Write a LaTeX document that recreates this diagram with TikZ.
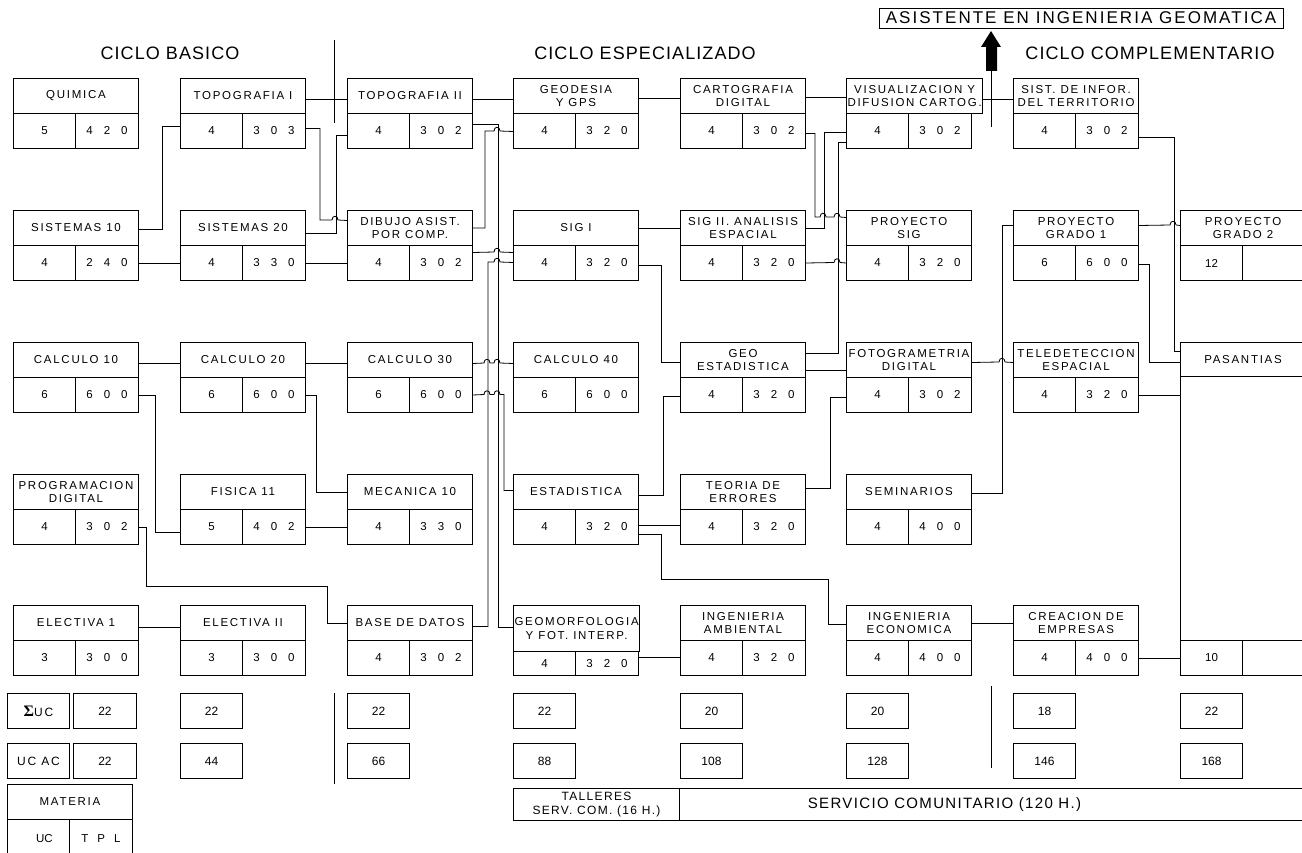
\documentclass[tikz,border=0pt]{standalone}
\usepackage{fontspec}
\setmainfont{Liberation Sans}
\newfontfamily\bxf{Liberation Sans}[LetterSpace=15]
\newfontfamily\hdf{Liberation Sans}[LetterSpace=6]
\newfontfamily\asf{Liberation Sans}[LetterSpace=12]
\newfontfamily\svf{Liberation Sans}[LetterSpace=9]
\newfontfamily\tlf{Liberation Sans}[LetterSpace=11]
\newfontfamily\sgf{Liberation Serif}
\newcommand\dg[3]{#1\hspace{11pt}#2\hspace{11pt}#3}
\tikzset{
 box/.style={draw, line width=1pt, inner sep=1pt, anchor=north west},
 ttl/.style={box, align=center, minimum width=125pt, minimum height=35pt, font=\bxf\fontsize{11.5}{13.5}\selectfont},
 cA/.style={box, minimum width=62pt, minimum height=35pt, font=\fontsize{11.5}{13}\selectfont},
 cB/.style={box, minimum width=63pt, minimum height=35pt, font=\fontsize{11.5}{13}\selectfont},
 sm/.style={box, minimum width=62pt, minimum height=35pt, font=\fontsize{12}{14}\selectfont},
 hdr/.style={font=\hdf\fontsize{18}{20}\selectfont},
 ln/.style={line width=0.8pt},
}
\newcommand\mcourse[6]{%
 \node[ttl] (#1) at (#2,#3) {#4};
 \node[cA] (#1-u) at (#2,#3+35) {#5};
 \node[cB] (#1-h) at (#2+62,#3+35) {#6};}
\begin{document}
\begin{tikzpicture}[x=1pt,y=-1pt]
\useasboundingbox (0,0) rectangle (1302,853);
\fill[white] (0,0) rectangle (1302,853);
\clip (0,0) rectangle (1302,853);

% headers
\node[hdr] (hb) at (170,53) {CICLO BASICO};
\node[hdr] (he) at (645,53) {CICLO ESPECIALIZADO};
\node[hdr] (hc) at (1150,53) {CICLO COMPLEMENTARIO};
\node[draw, line width=0.8pt, minimum width=404pt, minimum height=20pt, inner sep=0pt, font=\asf\fontsize{17}{19}\selectfont] (asist) at (1081,18) {ASISTENTE EN INGENIERIA GEOMATICA};

% row 1
\mcourse{quim}{13}{78}{QUIMICA}{5}{\dg420}
\mcourse{topoA}{180}{78}{TOPOGRAFIA I}{4}{\dg303}
\mcourse{topoB}{347}{78}{TOPOGRAFIA II}{4}{\dg302}
\mcourse{geod}{513}{78}{GEODESIA\\Y GPS}{4}{\dg320}
\mcourse{cart}{680}{78}{CARTOGRAFIA\\DIGITAL}{4}{\dg302}
\mcourse{vis}{846}{78}{VISUALIZACION Y\\DIFUSION CARTOG.}{4}{\dg302}
\mcourse{sist}{1013}{78}{SIST. DE INFOR.\\DEL TERRITORIO}{4}{\dg302}
% row 2
\mcourse{sisA}{13}{210}{SISTEMAS 10}{4}{\dg240}
\mcourse{sisB}{180}{210}{SISTEMAS 20}{4}{\dg330}
\mcourse{dib}{347}{210}{DIBUJO ASIST.\\POR COMP.}{4}{\dg302}
\mcourse{sigA}{513}{210}{SIG I}{4}{\dg320}
\mcourse{sigB}{680}{210}{SIG II. ANALISIS\\ESPACIAL}{4}{\dg320}
\mcourse{psig}{846}{210}{PROYECTO\\SIG}{4}{\dg320}
\mcourse{pgA}{1013}{210}{PROYECTO\\GRADO 1}{6}{\dg600}
\mcourse{pgB}{1180}{210}{PROYECTO\\GRADO 2}{12}{}
% row 3
\mcourse{calA}{13}{342}{CALCULO 10}{6}{\dg600}
\mcourse{calB}{180}{342}{CALCULO 20}{6}{\dg600}
\mcourse{calC}{347}{342}{CALCULO 30}{6}{\dg600}
\mcourse{calD}{513}{342}{CALCULO 40}{6}{\dg600}
\mcourse{geoest}{680}{342}{GEO\\ESTADISTICA}{4}{\dg320}
\mcourse{fot}{846}{342}{FOTOGRAMETRIA\\DIGITAL}{4}{\dg302}
\mcourse{tel}{1013}{342}{TELEDETECCION\\ESPACIAL}{4}{\dg320}
\node[ttl, minimum height=34pt] (pas) at (1180,342) {PASANTIAS};
\node[box, minimum width=125pt, minimum height=264pt] (pasb) at (1180,376) {};
\node[cA] (pas-u) at (1180,640) {10};
\node[cB] (pas-h) at (1242,640) {};
% row 4
\mcourse{prog}{13}{474}{PROGRAMACION\\DIGITAL}{4}{\dg302}
\mcourse{fis}{180}{474}{FISICA 11}{5}{\dg402}
\mcourse{mec}{347}{474}{MECANICA 10}{4}{\dg330}
\mcourse{est}{513}{474}{ESTADISTICA}{4}{\dg320}
\mcourse{teo}{680}{474}{TEORIA DE\\ERRORES}{4}{\dg320}
\mcourse{sem}{846}{474}{SEMINARIOS}{4}{\dg400}
% row 5
\mcourse{elA}{13}{605}{ELECTIVA 1}{3}{\dg300}
\mcourse{elB}{180}{605}{ELECTIVA II}{3}{\dg300}
\mcourse{bd}{347}{605}{BASE DE DATOS}{4}{\dg302}
\node[ttl, minimum height=46pt] (geom) at (513,605) {GEOMORFOLOGIA\\Y FOT. INTERP.};
\node[cA, minimum height=24pt] (geom-u) at (513,651) {4};
\node[cB, minimum height=24pt] (geom-h) at (575,651) {\dg320};
\mcourse{ingam}{680}{605}{INGENIERIA\\AMBIENTAL}{4}{\dg320}
\mcourse{ingec}{846}{605}{INGENIERIA\\ECONOMICA}{4}{\dg400}
\mcourse{crea}{1013}{605}{CREACION DE\\EMPRESAS}{4}{\dg400}

% sums
\node[sm, font=\bxf\fontsize{12}{14}\selectfont] (suml) at (7,693) {{\sgf\bfseries\fontsize{16}{16}\selectfont Σ}UC};
\node[sm, minimum width=63pt] (s1) at (73,693) {22};
\node[sm, font=\bxf\fontsize{12}{14}\selectfont] (acl) at (7,743) {UC AC};
\node[sm, minimum width=63pt] (a1) at (73,743) {22};
\node[sm] (s2) at (180,693) {22};  \node[sm] (a2) at (180,743) {44};
\node[sm] (s3) at (347,693) {22};  \node[sm] (a3) at (347,743) {66};
\node[sm] (s4) at (513,693) {22};  \node[sm] (a4) at (513,743) {88};
\node[sm] (s5) at (680,693) {20};  \node[sm] (a5) at (680,743) {108};
\node[sm] (s6) at (846,693) {20};  \node[sm] (a6) at (846,743) {128};
\node[sm] (s7) at (1013,693) {18}; \node[sm] (a7) at (1013,743) {146};
\node[sm] (s8) at (1180,693) {22}; \node[sm] (a8) at (1180,743) {168};

% legend
\node[ttl] (mat) at (7,784) {MATERIA};
\node[cA, minimum height=38pt] (mat-u) at (7,819) {\hspace*{12pt}UC};
\node[cB, minimum height=38pt] (mat-h) at (69,819) {T\hspace{9pt}P\hspace{9pt}L};

% community service
\node[box, align=center, minimum width=166pt, minimum height=32pt, inner sep=0pt, font=\tlf\fontsize{12}{13.5}\selectfont] (tall) at (513,788) {TALLERES\\SERV. COM. (16 H.)};
\node[box, minimum width=640pt, minimum height=32pt, font=\svf\fontsize{15}{17}\selectfont] (serv) at (679,788) {SERVICIO COMUNITARIO (120 H.)\hspace*{110pt}};

% separators
\draw[line width=1pt] (334,40) -- (334,123);
\draw[line width=1pt] (334,693) -- (334,784);
\draw[line width=1pt] (991,686) -- (991,768);

% exit arrow
\coordinate (arrowfoot) at (991,127);
\draw[ln] (arrowfoot) -- (991,71);
\fill (986,71) -- (986,47) -- (981,47) -- (991,31) -- (1001,47) -- (997,47) -- (997,71) -- cycle;

% connectors
\draw[ln] ([yshift=-3.5pt]topoA.east) -- ([yshift=-3.5pt]topoB.west);
\draw[ln] ([yshift=-1.5pt]sisA.east) -- ++(23,0) |- ([yshift=4.5pt]topoA-u.west);
\draw[ln] (sisA-h.east) -- (sisB-u.west);
\draw[ln] ([yshift=-5.5pt]sisB.east) -- ++(30,0) |- ([yshift=-4.5pt]topoB-u.west);
\draw[ln] ([yshift=2.5pt]topoA-h.east) -- ++(14,0) |- (332,220) .. controls (332,215) and (338,215) .. (338,220) -- ([yshift=7.5pt]dib.west);
\draw[ln] (sisB-h.east) -- (dib-u.west);
\draw[ln] ([yshift=-3.5pt]calA.east) -- ([yshift=-3.5pt]calB.west);
\draw[ln] (calA-h.east) -- ++(16,0) |- ([yshift=-5.5pt]fis-u.west);
\draw[ln] ([yshift=-3.5pt]calB.east) -- ([yshift=-3.5pt]calC.west);
\draw[ln] (calB-h.east) -- ++(10,0) |- (mec.west);
\draw[ln] (fis-h.east) -- (mec-u.west);
\draw[ln] (prog-h.east) -- ++(7,0) |- (327,586) |- (bd.west);
\draw[ln] ([yshift=-4.5pt]elA.east) -- ([yshift=-4.5pt]elB.west);
\draw[ln] ([yshift=-3.5pt]topoB.east) -- ([yshift=-3.5pt]geod.west);
\draw[ln] ([yshift=6.5pt]topoB-h.east) -- ++(25,0) |- ([yshift=1pt]geom.west);
\draw[ln] (dib.east) -- ++(12,0) |- (494,131) .. controls (494,126) and (500,126) .. (500,131) -- ([yshift=-0.5pt]geod-u.west);
\draw[ln] ([yshift=10.5pt]dib-h.east) -- (494,252) .. controls (494,247) and (500,247) .. (500,252) -- ([yshift=10.5pt]sigA-u.west);
\draw[ln] ([yshift=-3.5pt]bd.east) -- ++(15,0) |- (494,262) .. controls (494,257) and (500,257) .. (500,262) -- ([yshift=0.5pt]sigA-u.west);
\draw[ln] ([yshift=-3.5pt]calC.east) -- (484,363) .. controls (484,358) and (490,358) .. (490,363) -- (494,363) .. controls (494,358) and (500,358) .. (500,363) -- ([yshift=-3.5pt]calD.west);
\draw[ln] (calC-h.east) -- (484,394.5) .. controls (484,389.5) and (490,389.5) .. (490,394.5) -- (494,394.5) .. controls (494,389.5) and (500,389.5) .. (500,394.5) -- (504,394.5) |- ([yshift=1.5pt]est.west);
\draw[ln] ([yshift=-2.5pt]geod.east) -- ([yshift=-2.5pt]cart.west);
\draw[ln] ([yshift=-1.5pt]cart.east) -- ([yshift=-1.5pt]vis.west);
\draw[ln] ([yshift=-2.5pt]cart-h.east) -- ++(9,0) |- (820,217) .. controls (820,212) and (826,212) .. (826,217) -- (834,217) .. controls (834,212) and (840,212) .. (840,217) -- ([yshift=10.5pt]psig.west);
\draw[ln] (sigB.east) -- ++(18,0) |- ([yshift=-1.5pt]vis-u.west);
\draw[ln] ([yshift=6.5pt]geoest.east) -- ++(32,0) |- ([yshift=-11.5pt]vis-u.west);
\draw[ln] (sigB-h.east) -- (834,262.5) .. controls (834,257.5) and (840,257.5) .. (840,262.5) -- (psig-u.west);
\draw[ln] (sigA.east) -- (sigB.west);
\draw[ln] ([yshift=-2.5pt]sigA-h.east) -- ++(22,0) |- ([yshift=-2.5pt]geoest.west);
\draw[ln] ([yshift=-3.5pt]est.east) -- ++(24,0) |- ([yshift=-1.5pt]geoest-u.west);
\draw[ln] ([yshift=1.5pt]est-h.east) -- ([yshift=1.5pt]teo-u.west);
\draw[ln] ([yshift=-7.5pt]est-h.east) -- ++(22,0) |- (828,579) |- ([yshift=-1.5pt]ingec.west);
\draw[ln] ([yshift=3.5pt]teo.east) -- ++(24,0) |- ([yshift=-2.5pt]fot-u.west);
\draw[ln] ([yshift=-10.5pt]geoest.east) -- ([yshift=-10.5pt]fot.west);
\draw[ln] ([yshift=-2.5pt]fot.east) -- (999,362) .. controls (999,357) and (1005,357) .. (1005,362) -- ([yshift=-2.5pt]tel.west);
\draw[ln] ([yshift=-1.5pt]sem.east) -- ++(30,0) |- ([yshift=2.5pt]pgA.west);
\draw[ln] ([yshift=-3.5pt]vis.east) -- ([yshift=-3.5pt]sist.west);
\draw[ln] ([yshift=-6.5pt]sist-h.east) -- ++(35,0) |- ([yshift=8pt]pas.west);
\draw[ln] ([yshift=2.5pt]pgA.east) -- (1170,225) .. controls (1170,220) and (1176,220) .. (1176,225) -- ([yshift=2.5pt]pgB.west);
\draw[ln] ([yshift=-1.5pt]pgA-h.east) -- ++(10,0) |- ([yshift=-3pt]pas.west);
\draw[ln] (tel-h.east) -- (tel-h.east -| pasb.west);
\draw[ln] (crea-h.east) -- (pas-u.west);
\draw[ln] (ingec.east) -- (crea.west);
\draw[ln] ([yshift=6pt]geom-h.east) -- ([yshift=0.5pt]ingam-u.west);
\end{tikzpicture}
\end{document}
